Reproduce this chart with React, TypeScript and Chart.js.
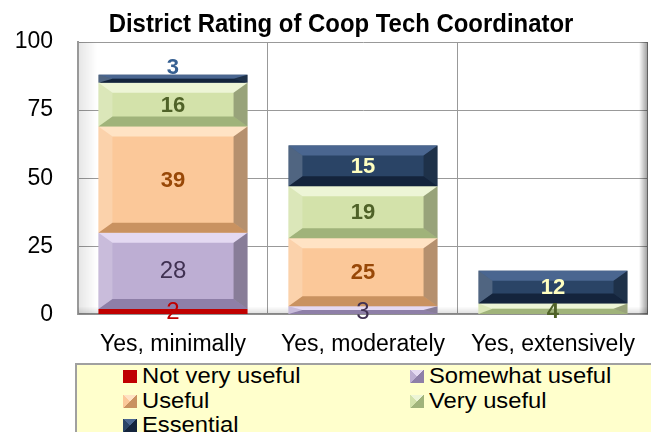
import React, { useEffect, useRef } from "react";
import { Chart, registerables } from "chart.js";

Chart.register(...registerables);

// ---- data ----
const chartTitle = "District Rating of Coop Tech Coordinator";
const categories = ["Yes, minimally", "Yes, moderately", "Yes, extensively"];
const seriesNames = ["Not very useful", "Somewhat useful", "Useful", "Very useful", "Essential"];
const notVeryUseful = [2, 0, 0];
const somewhatUseful = [28, 3, 0];
const useful = [39, 25, 0];
const veryUseful = [16, 19, 4];
const essential = [3, 15, 12];
const yTicks = [0, 25, 50, 75, 100];

// ---- styles ----
const seriesData = [notVeryUseful, somewhatUseful, useful, veryUseful, essential];
const fills = ["#C00000", "#BDAED3", "#FBC899", "#D3E2AA", "#2A4466"];
const lightFills = ["#C00000", "#E4D9F2", "#FFE3C4", "#EDF5D6", "#4A6690"];
const darkFills = ["#C00000", "#8E7FA8", "#C99260", "#A0B37A", "#14243C"];
const labelColors = ["#C00000", "#403152", "#984807", "#4F6228", "#FFFFC0"];
const labelBold = [false, false, true, true, true];
const outsideLabelColor = "#376092";
const FONT = '"Liberation Sans", Arial, sans-serif';

const decorPlugin = {
  id: "decor",
  beforeDatasetsDraw(chart: any) {
    const { ctx, chartArea } = chart;
    const { left, right, top, bottom } = chartArea;
    ctx.save();
    let g = ctx.createLinearGradient(left, 0, left + 19, 0);
    g.addColorStop(0, "rgba(0,0,0,0.10)");
    g.addColorStop(1, "rgba(0,0,0,0)");
    ctx.fillStyle = g;
    ctx.fillRect(left + 1, top, 19, bottom - top);
    g = ctx.createLinearGradient(0, bottom - 8, 0, bottom);
    g.addColorStop(0, "rgba(0,0,0,0)");
    g.addColorStop(1, "rgba(0,0,0,0.14)");
    ctx.fillStyle = g;
    ctx.fillRect(left, bottom - 8, right - left, 8);
    g = ctx.createLinearGradient(right - 9, 0, right, 0);
    g.addColorStop(0, "rgba(0,0,0,0)");
    g.addColorStop(1, "rgba(0,0,0,0.4)");
    ctx.fillStyle = g;
    ctx.fillRect(right - 9, top, 9, bottom - top);
    ctx.restore();
  },
  afterDatasetsDraw(chart: any) {
    const ctx = chart.ctx;
    const poly = (pts: number[][], color: string) => {
      ctx.beginPath();
      ctx.moveTo(pts[0][0], pts[0][1]);
      for (let i = 1; i < pts.length; i++) ctx.lineTo(pts[i][0], pts[i][1]);
      ctx.closePath();
      ctx.fillStyle = color;
      ctx.fill();
    };
    ctx.save();
    // bevels
    chart.data.datasets.forEach((ds: any, di: number) => {
      if (di === 0) return;
      const meta = chart.getDatasetMeta(di);
      meta.data.forEach((el: any, i: number) => {
        const v = ds.data[i];
        if (!v) return;
        const { x, y, base, width } = el.getProps(["x", "y", "base", "width"], true);
        const l = x - width / 2, r = x + width / 2;
        const t = Math.min(y, base), b = Math.max(y, base);
        const h = b - t;
        const bx = Math.min(14, width / 2), by = Math.min(10, h / 2);
        poly([[l, t], [r, t], [r - bx, t + by], [l + bx, t + by]], lightFills[di]);
        poly([[l, b], [r, b], [r - bx, b - by], [l + bx, b - by]], darkFills[di]);
        poly([[l, t], [l + bx, t + by], [l + bx, b - by], [l, b]], "rgba(255,255,255,0.18)");
        poly([[r, t], [r - bx, t + by], [r - bx, b - by], [r, b]], "rgba(0,0,0,0.28)");
      });
    });
    // labels
    ctx.textAlign = "center";
    ctx.textBaseline = "middle";
    chart.data.datasets.forEach((ds: any, di: number) => {
      const meta = chart.getDatasetMeta(di);
      meta.data.forEach((el: any, i: number) => {
        const v = ds.data[i];
        if (!v) return;
        const { x, y, base } = el.getProps(["x", "y", "base"], true);
        const t = Math.min(y, base), b = Math.max(y, base);
        let ly = (t + b) / 2 + 1;
        let color = labelColors[di];
        const isTop = di === chart.data.datasets.length - 1;
        if (isTop && b - t < 14) {
          ly = t - 7;
          color = outsideLabelColor;
        } else if (b - t < 14) {
          ly = b - 2;
        }
        ctx.font = labelBold[di] ? `bold 22px ${FONT}` : `24px ${FONT}`;
        ctx.fillStyle = color;
        ctx.fillText(String(v), x, ly);
      });
    });
    ctx.restore();
  },
};

function markerBg(k: number) {
  if (k === 0) return fills[0];
  return `conic-gradient(from -45deg, ${lightFills[k]} 0 25%, ${darkFills[k]} 25% 50%, ${darkFills[k]} 50% 75%, ${fills[k]} 75% 100%)`;
}

export default function App() {
  const ref = useRef<HTMLCanvasElement>(null);
  useEffect(() => {
    const chart = new Chart(ref.current as HTMLCanvasElement, {
      type: "bar",
      data: {
        labels: categories,
        datasets: seriesNames.map((name, k) => ({
          label: name,
          data: seriesData[k],
          backgroundColor: fills[k],
          borderWidth: 0,
          barPercentage: 0.785,
          categoryPercentage: 1,
        })),
      },
      options: {
        responsive: false,
        devicePixelRatio: 1,
        animation: false,
        layout: { padding: { left: 0, right: 0, top: 42, bottom: 58 } },
        plugins: {
          legend: { display: false },
          tooltip: { enabled: false },
          title: { display: false },
        },
        scales: {
          x: {
            stacked: true,
            grid: { offset: true, color: "#999", lineWidth: 1, drawTicks: false },
            border: { color: "#999", width: 2 },
            ticks: { color: "#000", font: { family: FONT, size: 23 }, padding: 16, maxRotation: 0 },
          },
          y: {
            stacked: true,
            min: 0,
            max: 100,
            afterBuildTicks: (s: any) => {
              s.ticks = yTicks.map((v) => ({ value: v }));
            },
            afterFit: (s: any) => {
              s.width = 78;
            },
            grid: { color: "#999", lineWidth: 1, drawTicks: false },
            border: { color: "#999", width: 2 },
            ticks: { color: "#000", font: { family: FONT, size: 23 }, padding: 25 },
          },
        },
      },
      plugins: [decorPlugin],
    } as any);
    return () => chart.destroy();
  }, []);

  return (
    <div style={{ position: "fixed", left: 0, top: 0, width: 651, height: 432, overflow: "hidden", background: "#fff" }}>
      <canvas ref={ref} width={651} height={432} style={{ position: "absolute", left: 0, top: 0, width: 651, height: 432 }} />
      <div
        style={{
          position: "absolute",
          left: 341,
          top: 10,
          transform: "translateX(-50%) scaleX(0.92)",
          whiteSpace: "nowrap",
          fontFamily: FONT,
          fontWeight: "bold",
          fontSize: 26,
          lineHeight: "26px",
          color: "#000",
        }}
      >
        {chartTitle}
      </div>
      <div
        style={{
          position: "absolute",
          left: 75,
          top: 363,
          width: 620,
          height: 120,
          background: "#FFFFCC",
          border: "2px solid #A0A0A0",
          fontFamily: FONT,
          fontSize: 22,
          lineHeight: "22px",
          color: "#000",
        }}
      >
        {seriesNames.map((name, k) => {
          const col = k % 2;
          const row = Math.floor(k / 2);
          const mx = col === 0 ? 46 : 333;
          const ty = row * 24.5;
          return (
            <div key={name} style={{ position: "absolute", left: mx, top: ty, whiteSpace: "nowrap", height: 24 }}>
              <span style={{ position: "absolute", left: 0, top: 5, width: 14, height: 13, background: markerBg(k) }} />
              <span style={{ position: "absolute", left: 19, top: 0, display: "inline-block", transform: "scaleX(1.08)", transformOrigin: "left" }}>
                {name}
              </span>
            </div>
          );
        })}
      </div>
    </div>
  );
}
